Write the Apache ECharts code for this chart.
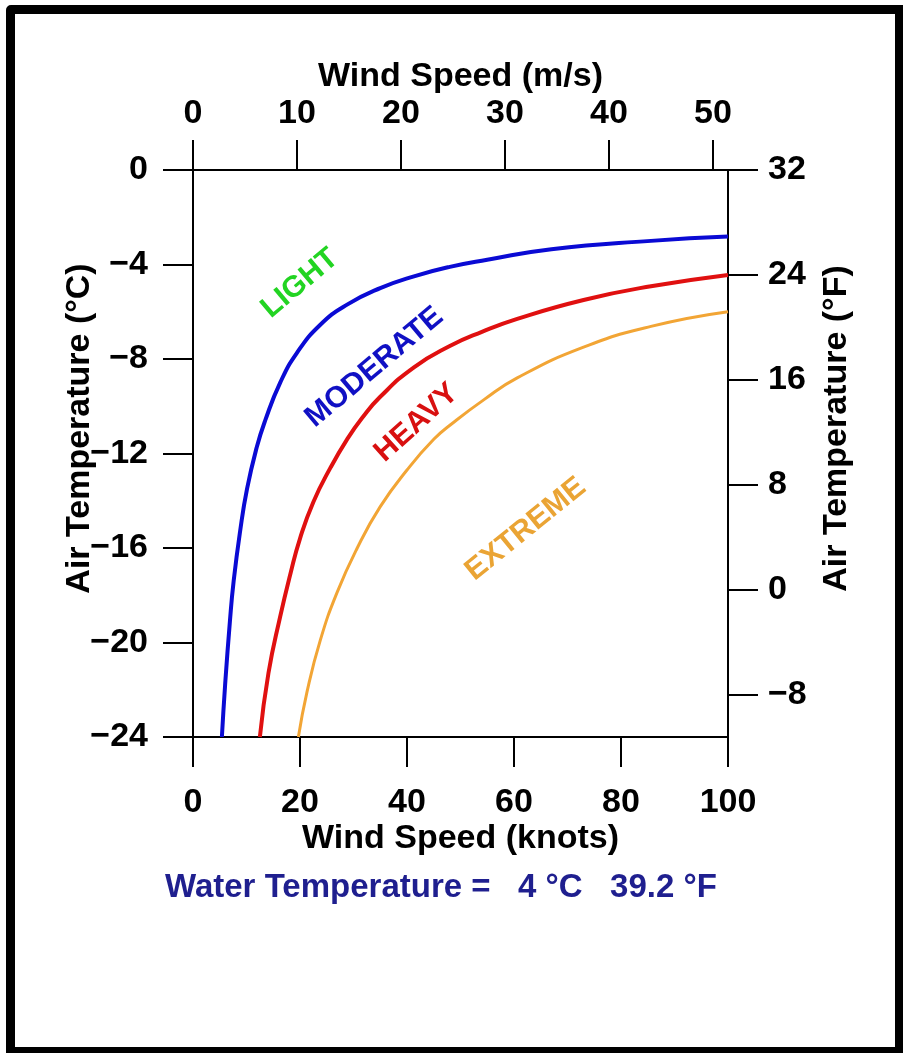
<!DOCTYPE html>
<html>
<head>
<meta charset="utf-8">
<title>Freezing spray</title>
<script src="https://cdn.jsdelivr.net/npm/echarts@6/dist/echarts.min.js"></script>
<style>
  html, body { margin: 0; padding: 0; background: #fff; }
  #wrap { position: relative; width: 903px; height: 1053px; }
  #chart { width: 903px; height: 1053px; }
  /* black picture frame */
  #frame {
    position: absolute; left: 6px; top: 5px; width: 897px; height: 1048px;
    box-sizing: border-box; border-style: solid; border-color: #000;
    border-width: 9px 8px 6px 9px; border-top-left-radius: 5px;
    pointer-events: none;
  }
</style>
</head>
<body>
<div id="wrap">
  <div id="chart"></div>
  <div id="frame"></div>
</div>
<script>
// [wind speed (knots), air temperature (degC)]
const lightLine = [
  [5.4, -24], [6.0, -21.8], [6.9, -19.1], [7.6, -17.4], [8.8, -15.3], [10.1, -13.5],
  [11.9, -11.75], [13.5, -10.6], [16.3, -9.0], [19.4, -7.75], [23.8, -6.55], [28.8, -5.7],
  [35, -5.0], [41.3, -4.5], [48, -4.1], [55, -3.8], [67, -3.35], [85.6, -3.0], [100, -2.82]
];
const moderateLine = [
  [12.5, -24], [14.1, -21.3], [16.3, -18.9], [18.2, -17.1], [20, -15.6], [22.5, -14.05],
  [25.7, -12.6], [28.8, -11.4], [31.6, -10.5], [35, -9.6], [41.3, -8.35], [48, -7.45],
  [54, -6.85], [60.6, -6.3], [73, -5.5], [85.6, -4.92], [100, -4.44]
];
const heavyLine = [
  [19.7, -24], [21.3, -22.1], [23.8, -19.9], [26.9, -17.9], [30.7, -16.0], [35, -14.25],
  [40, -12.7], [45, -11.4], [48.5, -10.72], [54.4, -9.72], [60.6, -8.8], [73, -7.5],
  [85.6, -6.62], [100, -6.0]
];

const zoneNames = ["LIGHT", "MODERATE", "HEAVY", "EXTREME"];
// where each zone name sits, in knots / degC
const zoneLabelAt = [[20, -4.8], [33.9, -8.35], [41.8, -10.7], [62.2, -15.2]];

const msTicks = [0, 10, 20, 30, 40, 50];
const fTicks = [-8, 0, 8, 16, 24, 32];

const KNOTS_PER_MS = 1.94384;
const FONT = "Liberation Sans";

const minusFmt = (v) => (v < 0 ? "\u2212" + Math.abs(v) : String(v));

const axisLine = { onZero: false, lineStyle: { color: "#000", width: 2 } };
const tick = { length: 30, lineStyle: { color: "#000", width: 2 } };
const lbl = { color: "#000", fontSize: 34, fontWeight: "bold", fontFamily: FONT, formatter: minusFmt };
const nameStyle = { color: "#000", fontSize: 34, fontWeight: "bold", fontFamily: FONT };

const zoneColors = ["#22d422", "#1010c4", "#d81010", "#eaa434"];
const zoneRotate = [40, 40, 42, 39];

const lineSeries = (data, color, width) => ({
  type: "line",
  data,
  smooth: true,
  showSymbol: false,
  lineStyle: { color, width },
});

const chart = echarts.init(document.getElementById("chart"));

chart.setOption({
  animation: false,
  title: {
    text: "Water Temperature =   4 \u00b0C   39.2 \u00b0F",
    left: 165,
    top: 871,
    padding: 0,
    textStyle: { color: "#1f1f8f", fontSize: 33, fontWeight: "bold", fontFamily: FONT },
  },
  grid: { left: 193, right: 175, top: 170, bottom: 316, outerBoundsMode: "none" },
  xAxis: [
    {
      type: "value",
      position: "bottom",
      min: 0,
      max: 100,
      interval: 20,
      name: "Wind Speed (knots)",
      nameLocation: "middle",
      nameGap: 85,
      nameMoveOverlap: false,
      nameTextStyle: nameStyle,
      axisLine,
      axisTick: tick,
      axisLabel: { ...lbl, margin: 49 },
      splitLine: { show: false },
    },
    {
      type: "value",
      position: "top",
      min: 0,
      max: 100 / KNOTS_PER_MS,
      name: "Wind Speed (m/s)",
      nameLocation: "middle",
      nameGap: 76,
      nameMoveOverlap: false,
      nameTextStyle: nameStyle,
      axisLine,
      axisTick: { ...tick, customValues: msTicks },
      axisLabel: { ...lbl, margin: 39, customValues: msTicks },
      splitLine: { show: false },
    },
  ],
  yAxis: [
    {
      type: "value",
      position: "left",
      min: -24,
      max: 0,
      interval: 4,
      name: "Air Temperature (\u00b0C)",
      nameLocation: "middle",
      nameRotate: 90,
      nameGap: 96,
      nameMoveOverlap: false,
      nameTextStyle: { ...nameStyle, padding: [0, 0, 0, 50] },
      axisLine,
      axisTick: tick,
      axisLabel: { ...lbl, margin: 45 },
      splitLine: { show: false },
    },
    {
      type: "value",
      position: "right",
      min: -24 * 1.8 + 32,
      max: 32,
      name: "Air Temperature (\u00b0F)",
      nameLocation: "middle",
      nameRotate: 90,
      nameGap: 92,
      nameMoveOverlap: false,
      nameTextStyle: { ...nameStyle, padding: [0, 0, 0, 50] },
      axisLine,
      axisTick: { ...tick, customValues: fTicks },
      axisLabel: { ...lbl, margin: 40, customValues: fTicks },
      splitLine: { show: false },
    },
  ],
  series: [
    lineSeries(lightLine, "#0a0ad4", 4),
    lineSeries(moderateLine, "#e01010", 4),
    lineSeries(heavyLine, "#f2a535", 3),
    {
      // zone names along the curves
      type: "scatter",
      symbolSize: 1,
      itemStyle: { color: "rgba(0,0,0,0)" },
      silent: true,
      data: zoneNames.map((n, i) => ({
        name: n,
        value: zoneLabelAt[i],
        label: { color: zoneColors[i], rotate: zoneRotate[i] },
      })),
      label: {
        show: true,
        position: "inside",
        formatter: "{b}",
        fontSize: 30,
        fontWeight: "bold",
        fontFamily: FONT,
        opacity: 1,
      },
    },
  ],
});
</script>
</body>
</html>
